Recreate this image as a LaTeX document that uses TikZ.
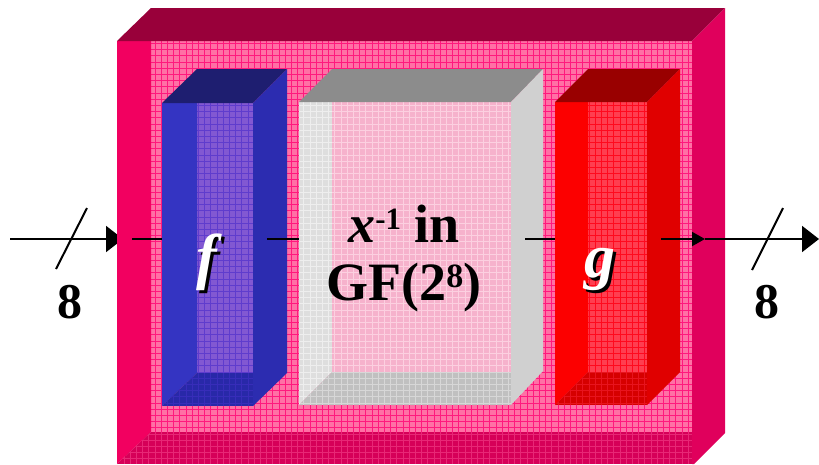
\documentclass[tikz,border=0pt]{standalone}
\usepackage{fontspec}
\setmainfont{Liberation Serif}
\usetikzlibrary{arrows.meta}
% outer box
\definecolor{oTop}{RGB}{153,0,58}
\definecolor{oSide}{RGB}{224,0,92}
\definecolor{oLeft}{RGB}{242,0,96}
\definecolor{oFloor}{RGB}{214,0,88}
\definecolor{oFloorG}{RGB}{232,40,118}
\definecolor{oWall}{RGB}{255,112,165}
\definecolor{oWallG}{RGB}{255,25,125}
% blue
\definecolor{bTop}{RGB}{30,30,112}
\definecolor{bSide}{RGB}{44,44,176}
\definecolor{bLeft}{RGB}{52,52,194}
\definecolor{bFloor}{RGB}{40,40,168}
\definecolor{bFloorG}{RGB}{55,45,185}
\definecolor{bWall}{RGB}{130,88,210}
\definecolor{bWallG}{RGB}{95,60,205}
% gray
\definecolor{gTop}{RGB}{140,140,140}
\definecolor{gSide}{RGB}{208,208,208}
\definecolor{gLeft}{RGB}{222,222,222}
\definecolor{gLeftG}{RGB}{238,238,238}
\definecolor{gFloor}{RGB}{192,192,192}
\definecolor{gFloorG}{RGB}{215,215,215}
\definecolor{gWall}{RGB}{246,178,204}
\definecolor{gWallG}{RGB}{252,208,224}
% red
\definecolor{rTop}{RGB}{153,0,0}
\definecolor{rSide}{RGB}{224,0,0}
\definecolor{rLeft}{RGB}{252,0,0}
\definecolor{rFloor}{RGB}{214,0,0}
\definecolor{rFloorG}{RGB}{232,20,30}
\definecolor{rWall}{RGB}{255,62,80}
\definecolor{rWallG}{RGB}{255,10,30}
\tikzset{
  conn/.style={line width=2pt, black},
  bigtip/.style={-{Triangle[length=17pt,width=26pt]}},
  smalltip/.style={-{Triangle[length=13pt,width=14pt]}},
  gridlines/.style={line width=0.9pt},
  lbl/.style={anchor=base, inner sep=0pt, font=\bfseries\fontsize{50}{50}\selectfont},
  fun/.style={anchor=base, inner sep=0pt, font=\bfseries\itshape\fontsize{62}{62}\selectfont},
  mid/.style={anchor=base, inner sep=0pt, font=\bfseries\fontsize{54}{54}\selectfont},
}
\begin{document}
\begin{tikzpicture}[x=1pt,y=-1pt]
\useasboundingbox (0,0) rectangle (819,464);
% named connector points
\coordinate (inL) at (10,239);
\coordinate (inTip) at (123,239);
\coordinate (c1s) at (132,239);
\coordinate (c1e) at (175,239);
\coordinate (c2s) at (267,239);
\coordinate (c2e) at (313,239);
\coordinate (c3s) at (525,239);
\coordinate (c3e) at (568,239);
\coordinate (c4s) at (661,239);
\coordinate (c4e) at (705,239);
\coordinate (outTip) at (819,239);
\coordinate (s1a) at (56,269);
\coordinate (s1b) at (87,208);
\coordinate (s2a) at (752,270);
\coordinate (s2b) at (783,208);

% external input arrow (behind the box)
\draw[conn, bigtip] (inL) -- (inTip);
\draw[conn] (s1a) -- (s1b);

% ---------- outer box ----------
\fill[oWall] (151,41) rectangle (692,432);
\begin{scope}
\clip (151,41) rectangle (692,432);
\draw[gridlines, oWallG, step=6.2pt] (151,41) grid (692,432);
\end{scope}
\fill[oLeft] (117,41) -- (151,41) -- (151,432) -- (117,464) -- cycle;
\begin{scope}
\clip (117,464) -- (151,432) -- (692,432) -- (692,464) -- cycle;
\fill[oFloor] (117,432) rectangle (692,464);
\draw[gridlines, oFloorG, step=6.2pt] (117,432) grid (692,464);
\end{scope}
\fill[oTop] (117,41) -- (151,8) -- (725,8) -- (692,41) -- cycle;
\fill[oSide] (692,41) -- (725,8) -- (725,433) -- (694,464) -- (692,464) -- cycle;

\draw[conn, smalltip] (c1s) -- (c1e);

% ---------- blue box f ----------
\fill[bWall] (197,103) rectangle (253,373);
\begin{scope}
\clip (197,103) rectangle (253,373);
\draw[gridlines, bWallG, step=6.2pt] (197,103) grid (253,373);
\end{scope}
\fill[bLeft] (162,103) -- (197,103) -- (197,373) -- (162,406) -- cycle;
\begin{scope}
\clip (162,406) -- (197,373) -- (253,373) -- (253,406) -- cycle;
\fill[bFloor] (162,373) rectangle (253,406);
\draw[gridlines, bFloorG, step=6.2pt] (162,373) grid (253,406);
\end{scope}
\fill[bTop] (162,103) -- (197,69) -- (287,69) -- (253,103) -- cycle;
\fill[bSide] (253,103) -- (287,69) -- (287,373) -- (253,406) -- cycle;

\draw[conn, smalltip] (c2s) -- (c2e);

% ---------- gray box ----------
\fill[gWall] (332,102) rectangle (511,372);
\begin{scope}
\clip (332,102) rectangle (511,372);
\draw[gridlines, gWallG, step=6.2pt] (332,102) grid (511,372);
\end{scope}
\begin{scope}
\clip (299,102) -- (332,102) -- (332,372) -- (299,405) -- cycle;
\fill[gLeft] (299,102) rectangle (332,405);
\draw[gridlines, gLeftG, step=6.2pt] (299,102) grid (332,405);
\end{scope}
\begin{scope}
\clip (299,405) -- (332,372) -- (511,372) -- (511,405) -- cycle;
\fill[gFloor] (299,372) rectangle (511,405);
\draw[gridlines, gFloorG, step=6.2pt] (299,372) grid (511,405);
\end{scope}
\fill[gTop] (299,102) -- (332,69) -- (543,69) -- (511,102) -- cycle;
\fill[gSide] (511,102) -- (543,69) -- (543,371) -- (511,405) -- cycle;

\draw[conn, smalltip] (c3s) -- (c3e);

% ---------- red box g ----------
\fill[rWall] (588,102) rectangle (647,372);
\begin{scope}
\clip (588,102) rectangle (647,372);
\draw[gridlines, rWallG, step=6.2pt] (588,102) grid (647,372);
\end{scope}
\fill[rLeft] (555,102) -- (588,102) -- (588,372) -- (555,405) -- cycle;
\begin{scope}
\clip (555,405) -- (588,372) -- (647,372) -- (647,405) -- cycle;
\fill[rFloor] (555,372) rectangle (647,405);
\draw[gridlines, rFloorG, step=6.2pt] (555,372) grid (647,405);
\end{scope}
\fill[rTop] (555,102) -- (588,69) -- (680,69) -- (647,102) -- cycle;
\fill[rSide] (647,102) -- (680,69) -- (680,372) -- (647,405) -- cycle;

% output connectors
\draw[conn, smalltip] (c4s) -- (c4e);
\draw[conn, bigtip] (c4e) -- (outTip);
\draw[conn] (s2a) -- (s2b);

% ---------- texts ----------
\node[fun, text=black] (fsh) at (210,280) {f};
\node[fun, text=white] (f) at (207,277) {f};
\node[fun, text=black] (gsh) at (603,280) {g};
\node[fun, text=white] (g) at (600,277) {g};
\node[mid] (t1) at (404,242) {\textit{x}\raisebox{13pt}{\fontsize{31}{31}\selectfont -1} in};
\node[mid] (t2) at (404,300) {GF(2\raisebox{13pt}{\fontsize{34}{34}\selectfont 8})};
\node[lbl] (n1) at (70,318) {8};
\node[lbl] (n2) at (767,318) {8};
\end{tikzpicture}
\end{document}
